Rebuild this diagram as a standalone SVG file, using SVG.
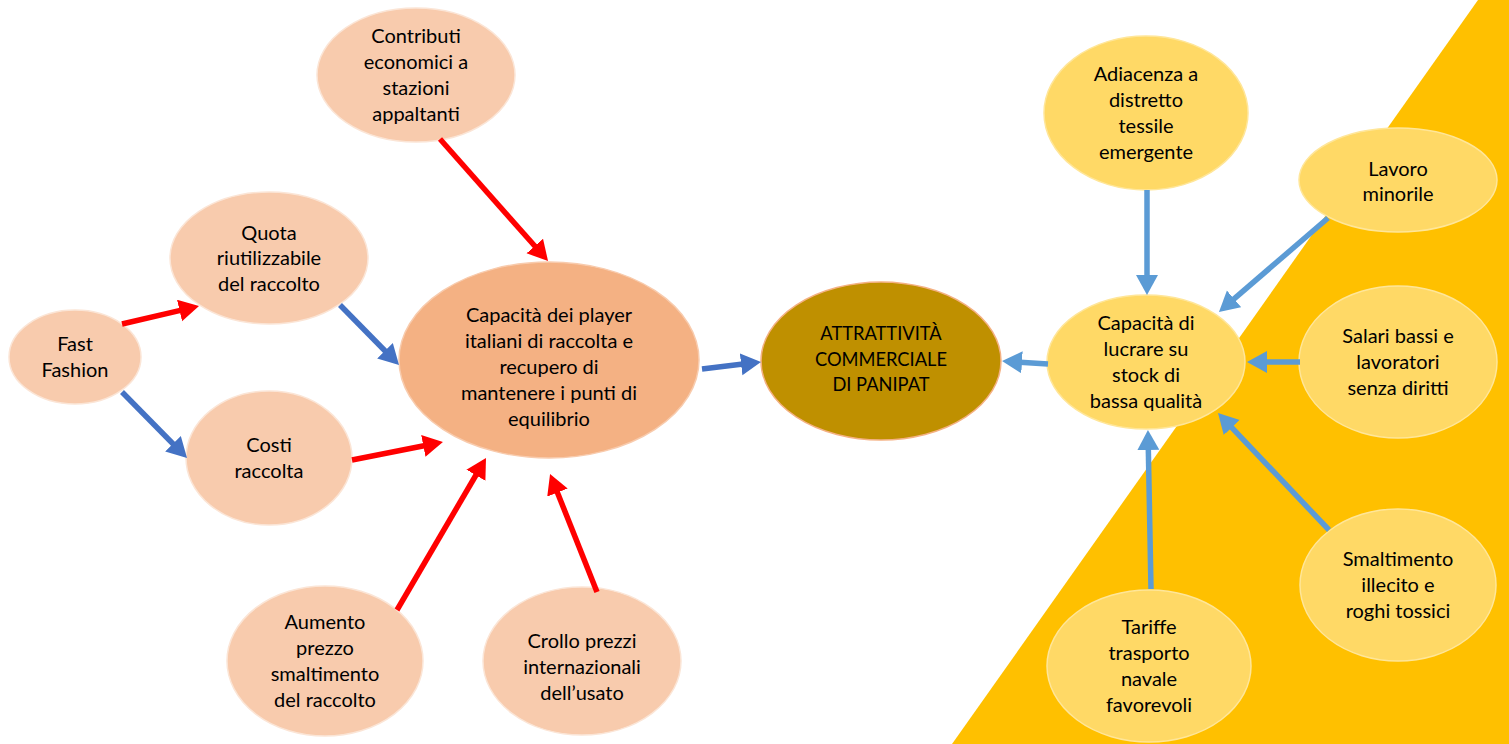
<svg xmlns="http://www.w3.org/2000/svg" width="1509" height="744" viewBox="0 0 1509 744">
<defs>
<style>
text{font-family:Lato,"Open Sans","Liberation Sans",sans-serif;font-size:20px;fill:#000;text-anchor:middle}
.caps{font-size:18.3px}
.pk{fill:#F8CBAD;stroke:#FBE5D6;stroke-width:1.5}
.ce{fill:#F4B183;stroke:#F8CBAD;stroke-width:1.5}
.au{fill:#BF9000;stroke:#F4B183;stroke-width:1.5}
.ye{fill:#FFD966;stroke:#FFE699;stroke-width:1.5}
.r{stroke:#FF0000;stroke-width:5.5;fill:none}
.b{stroke:#4472C4;stroke-width:5.5;fill:none}
.lb{stroke:#5B9BD5;stroke-width:5.5;fill:none}
</style>
<marker id="mr" markerUnits="userSpaceOnUse" markerWidth="22" markerHeight="24" refX="2" refY="11" orient="auto"><path d="M0,0 L20,11 L0,22 z" fill="#FF0000"/></marker>
<marker id="mb" markerUnits="userSpaceOnUse" markerWidth="22" markerHeight="24" refX="2" refY="11" orient="auto"><path d="M0,0 L20,11 L0,22 z" fill="#4472C4"/></marker>
<marker id="ml" markerUnits="userSpaceOnUse" markerWidth="22" markerHeight="24" refX="2" refY="11" orient="auto"><path d="M0,0 L20,11 L0,22 z" fill="#5B9BD5"/></marker>
</defs>
<rect width="1509" height="744" fill="#FFFFFF"/>
<polygon points="952,744 1478,0 1509,0 1509,744" fill="#FFC000"/>

<g id="n-contributi"><ellipse class="pk" cx="416" cy="75" rx="99" ry="67"/>
<text x="416" y="43">Contributi</text><text x="416" y="69">economici a</text><text x="416" y="95">stazioni</text><text x="416" y="121">appaltanti</text></g>
<g id="n-quota"><ellipse class="pk" cx="269" cy="258" rx="99" ry="66"/>
<text x="269" y="240">Quota</text><text x="269" y="265">riutilizzabile</text><text x="269" y="291">del raccolto</text></g>
<g id="n-fast"><ellipse class="pk" cx="75" cy="357" rx="66" ry="47"/>
<text x="75" y="351">Fast</text><text x="75" y="377">Fashion</text></g>
<g id="n-costi"><ellipse class="pk" cx="269" cy="458" rx="83" ry="67"/>
<text x="269" y="452">Costi</text><text x="269" y="478">raccolta</text></g>
<g id="n-central"><ellipse class="ce" cx="549" cy="360" rx="150" ry="98"/>
<text x="549" y="322">Capacità dei player</text><text x="549" y="348">italiani di raccolta e</text><text x="549" y="374">recupero di</text><text x="549" y="400">mantenere i punti di</text><text x="549" y="426">equilibrio</text></g>
<g id="n-attr"><ellipse class="au" cx="881" cy="361" rx="120" ry="79"/>
<text class="caps" x="881" y="340">ATTRATTIVITÀ</text><text class="caps" x="881" y="366">COMMERCIALE</text><text class="caps" x="881" y="391">DI PANIPAT</text></g>
<g id="n-aumento"><ellipse class="pk" cx="325" cy="661" rx="98" ry="75"/>
<text x="325" y="629">Aumento</text><text x="325" y="655">prezzo</text><text x="325" y="681">smaltimento</text><text x="325" y="707">del raccolto</text></g>
<g id="n-crollo"><ellipse class="pk" cx="582" cy="661" rx="99" ry="74"/>
<text x="582" y="648">Crollo prezzi</text><text x="582" y="674">internazionali</text><text x="582" y="700">dell’usato</text></g>
<g id="n-adiacenza"><ellipse class="ye" cx="1146" cy="113" rx="102" ry="77"/>
<text x="1146" y="81">Adiacenza a</text><text x="1146" y="107">distretto</text><text x="1146" y="133">tessile</text><text x="1146" y="159">emergente</text></g>
<g id="n-lavoro"><ellipse class="ye" cx="1398" cy="180" rx="99" ry="52"/>
<text x="1398" y="176">Lavoro</text><text x="1398" y="201">minorile</text></g>
<g id="n-lucrare"><ellipse class="ye" cx="1146" cy="362" rx="99" ry="67"/>
<text x="1146" y="330">Capacità di</text><text x="1146" y="356">lucrare su</text><text x="1146" y="382">stock di</text><text x="1146" y="408">bassa qualità</text></g>
<g id="n-salari"><ellipse class="ye" cx="1398" cy="362" rx="99" ry="76"/>
<text x="1398" y="343">Salari bassi e</text><text x="1398" y="369">lavoratori</text><text x="1398" y="395">senza diritti</text></g>
<g id="n-smaltimento"><ellipse class="ye" cx="1398" cy="585" rx="98" ry="76"/>
<text x="1398" y="566">Smaltimento</text><text x="1398" y="592">illecito e</text><text x="1398" y="618">roghi tossici</text></g>
<g id="n-tariffe"><ellipse class="ye" cx="1149" cy="666" rx="102" ry="76"/>
<text x="1149" y="634">Tariffe</text><text x="1149" y="660">trasporto</text><text x="1149" y="686">navale</text><text x="1149" y="712">favorevoli</text></g>

<g id="connectors">
<line class="r" x1="122" y1="324" x2="181.5" y2="310.1" marker-end="url(#mr)"/>
<line class="b" x1="122" y1="392" x2="174.4" y2="445.2" marker-end="url(#mb)"/>
<line class="b" x1="340" y1="305" x2="386.4" y2="352.2" marker-end="url(#mb)"/>
<line class="r" x1="352" y1="460" x2="425.3" y2="445.5" marker-end="url(#mr)"/>
<line class="r" x1="440" y1="139" x2="536.1" y2="247.5" marker-end="url(#mr)"/>
<line class="r" x1="397" y1="610" x2="476.9" y2="473.5" marker-end="url(#mr)"/>
<line class="r" x1="597" y1="592" x2="556.7" y2="490.7" marker-end="url(#mr)"/>
<line class="b" x1="702" y1="369" x2="743.1" y2="364.1" marker-end="url(#mb)"/>
<line class="lb" x1="1048" y1="364" x2="1020" y2="362.2" marker-end="url(#ml)"/>
<line class="lb" x1="1147" y1="190" x2="1147" y2="277" marker-end="url(#ml)"/>
<line class="lb" x1="1328" y1="218" x2="1232.6" y2="300.2" marker-end="url(#ml)"/>
<line class="lb" x1="1300" y1="362" x2="1265" y2="362" marker-end="url(#ml)"/>
<line class="lb" x1="1329" y1="530" x2="1230.4" y2="426.1" marker-end="url(#ml)"/>
<line class="lb" x1="1151" y1="589" x2="1148.3" y2="448" marker-end="url(#ml)"/>
</g>
</svg>
